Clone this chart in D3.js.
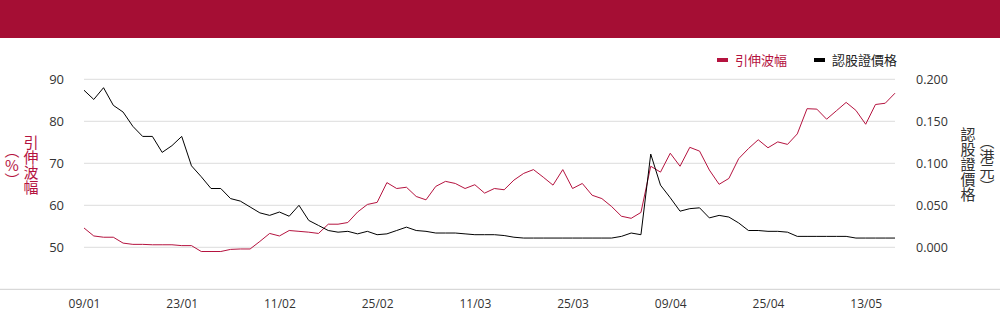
<!DOCTYPE html>
<html>
<head>
<meta charset="utf-8">
<script src="https://cdn.jsdelivr.net/npm/d3@7"></script>
<style>
  body { margin: 0; background: #fff; }
  svg { display: block; font-family: "Open Sans", "Noto Sans CJK TC", sans-serif; }
</style>
</head>
<body>
<div id="chart"></div>
<script>
// trading days 2025 (dd/mm)
let dates = [
  "09/01","10/01","13/01","14/01","15/01","16/01","17/01","20/01","21/01","22/01",
  "23/01","24/01","27/01","28/01","03/02","04/02","05/02","06/02","07/02","10/02",
  "11/02","12/02","13/02","14/02","17/02","18/02","19/02","20/02","21/02","24/02",
  "25/02","26/02","27/02","28/02","03/03","04/03","05/03","06/03","07/03","10/03",
  "11/03","12/03","13/03","14/03","17/03","18/03","19/03","20/03","21/03","24/03",
  "25/03","26/03","27/03","28/03","31/03","01/04","02/04","03/04","07/04","08/04",
  "09/04","10/04","11/04","14/04","15/04","16/04","17/04","22/04","23/04","24/04",
  "25/04","28/04","29/04","30/04","02/05","06/05","07/05","08/05","09/05","12/05",
  "13/05","14/05","15/05","16/05"
];

// 引伸波幅 (%)
let volatility = [
  54.6, 52.7, 52.4, 52.4, 51.0, 50.7, 50.7, 50.6, 50.6, 50.6,
  50.4, 50.4, 49.0, 49.0, 49.0, 49.5, 49.6, 49.6, 51.4, 53.3,
  52.7, 54.0, 53.8, 53.6, 53.3, 55.5, 55.5, 55.9, 58.4, 60.2,
  60.7, 65.4, 64.0, 64.3, 62.1, 61.3, 64.5, 65.7, 65.2, 64.0,
  64.9, 62.9, 64.0, 63.7, 66.0, 67.6, 68.5, 66.7, 64.8, 68.5,
  64.0, 65.2, 62.4, 61.6, 59.7, 57.4, 56.9, 58.3, 69.3, 67.9,
  72.4, 69.3, 73.8, 72.9, 68.4, 65.0, 66.4, 71.1, 73.5, 75.6,
  73.7, 75.1, 74.5, 77.0, 83.0, 82.9, 80.5, 82.5, 84.5, 82.6,
  79.3, 84.0, 84.3, 86.7
];

// 認股證價格 (港元)
let price = [
  0.187, 0.176, 0.190, 0.169, 0.161, 0.144, 0.132, 0.132, 0.113, 0.121,
  0.132, 0.097, 0.084, 0.070, 0.070, 0.058, 0.055, 0.048, 0.041, 0.038,
  0.042, 0.037, 0.050, 0.032, 0.026, 0.020, 0.018, 0.019, 0.016, 0.019,
  0.015, 0.016, 0.020, 0.024, 0.020, 0.019, 0.017, 0.017, 0.017, 0.016,
  0.015, 0.015, 0.015, 0.014, 0.012, 0.011, 0.011, 0.011, 0.011, 0.011,
  0.011, 0.011, 0.011, 0.011, 0.011, 0.013, 0.017, 0.015, 0.111, 0.074,
  0.059, 0.043, 0.046, 0.047, 0.035, 0.038, 0.036, 0.029, 0.020, 0.020,
  0.019, 0.019, 0.018, 0.013, 0.013, 0.013, 0.013, 0.013, 0.013, 0.011,
  0.011, 0.011, 0.011, 0.011
];

let xTicks = ["09/01","23/01","11/02","25/02","11/03","25/03","09/04","25/04","13/05"];
let leftTicks = [50, 60, 70, 80, 90];
let rightTicks = [0, 0.05, 0.1, 0.15, 0.2];

let width = 1000, height = 324;
let red = "#b5133f", header = "#a50e34";

let svg = d3.select("#chart").append("svg")
    .attr("width", width)
    .attr("height", height);

svg.append("rect")
    .attr("width", width).attr("height", 38)
    .attr("fill", header);

let x = d3.scalePoint().domain(dates).range([84, 895]);
let yL = d3.scaleLinear().domain([40, 90]).range([289.3, 79.3]);
let yR = d3.scaleLinear().domain([-0.05, 0.2]).range([289.3, 79.3]);

// gridlines
svg.append("g")
    .selectAll("line")
    .data(leftTicks)
    .join("line")
    .attr("x1", 84).attr("x2", 895)
    .attr("y1", d => yL(d)).attr("y2", d => yL(d))
    .attr("stroke", "#dcdcdc").attr("stroke-width", 1);

// bottom rule
svg.append("line")
    .attr("x1", 0).attr("x2", width)
    .attr("y1", 289.3).attr("y2", 289.3)
    .attr("stroke", "#cfcfcf");

// left axis
let gl = svg.append("g")
    .attr("transform", "translate(64,0)")
    .call(d3.axisLeft(yL).tickValues(leftTicks).tickSize(0).tickPadding(0));
gl.select(".domain").remove();
gl.selectAll("text").attr("font-size", 13).attr("fill", "#333")
    .attr("font-family", "'Open Sans', sans-serif");

// right axis
let gr = svg.append("g")
    .attr("transform", "translate(916,0)")
    .call(d3.axisRight(yR).tickValues(rightTicks).tickFormat(d3.format(".3f")).tickSize(0).tickPadding(0));
gr.select(".domain").remove();
gr.selectAll("text").attr("font-size", 12.5).attr("fill", "#333")
    .attr("font-family", "'Open Sans', sans-serif");

// x axis
let gx = svg.append("g")
    .attr("transform", "translate(0,299)")
    .call(d3.axisBottom(x).tickValues(xTicks).tickSize(0).tickPadding(0));
gx.select(".domain").remove();
gx.selectAll("text").attr("font-size", 12).attr("fill", "#333")
    .attr("font-family", "'Open Sans', sans-serif");

// lines
let lineL = d3.line().x((d, i) => x(dates[i])).y(d => yL(d));
let lineR = d3.line().x((d, i) => x(dates[i])).y(d => yR(d));

svg.append("path")
    .datum(volatility)
    .attr("fill", "none")
    .attr("stroke", red)
    .attr("stroke-width", 1)
    .attr("d", lineL);

svg.append("path")
    .datum(price)
    .attr("fill", "none")
    .attr("stroke", "#000")
    .attr("stroke-width", 1)
    .attr("d", lineR);

// axis titles (vertical text)
function vtext(cx, cy, txt, color) {
  svg.append("text")
      .attr("x", cx).attr("y", cy)
      .attr("text-anchor", "middle")
      .attr("fill", color)
      .attr("font-size", 15)
      .attr("font-family", "'Noto Sans CJK TC', sans-serif")
      .style("writing-mode", "vertical-rl")
      .style("text-orientation", "upright")
      .text(txt);
}
vtext(31, 165, "引伸波幅", red);
vtext(12, 165, "（%）", red);
vtext(968, 164, "認股證價格", "#333");
vtext(987, 164, "（港元）", "#333");

// legend
let legend = [
  {name: "引伸波幅", color: red, tx: red},
  {name: "認股證價格", color: "#000", tx: "#222"}
];
let lg = svg.append("g").selectAll("g")
    .data(legend)
    .join("g")
    .attr("transform", (d, i) => "translate(" + [717, 814][i] + ",60)");
lg.append("rect")
    .attr("x", 0).attr("y", -2).attr("width", 11).attr("height", 4)
    .attr("fill", d => d.color);
lg.append("text")
    .attr("x", 18).attr("y", 0).attr("dy", "0.35em")
    .attr("font-size", 13)
    .attr("font-family", "'Noto Sans CJK TC', sans-serif")
    .attr("fill", d => d.tx)
    .text(d => d.name);
</script>
</body>
</html>
